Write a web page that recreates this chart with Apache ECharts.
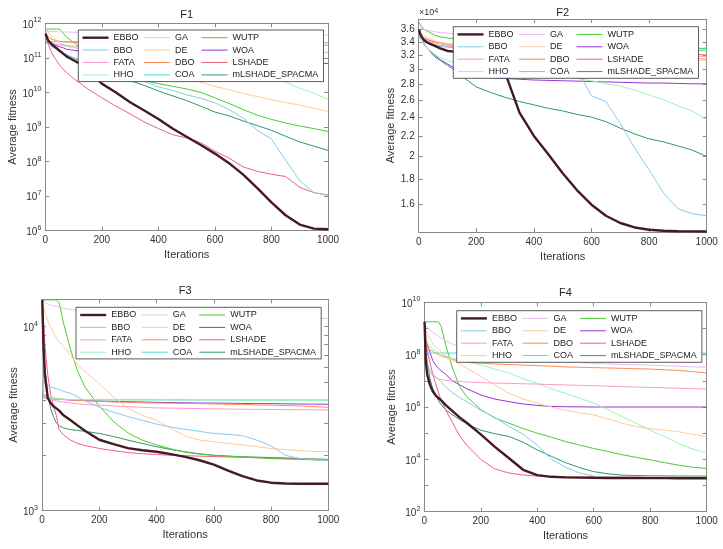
<!DOCTYPE html>
<html>
<head>
<meta charset="utf-8">
<script src="https://cdn.jsdelivr.net/npm/echarts@6.0.0/dist/echarts.min.js"></script>
<style>
html,body{margin:0;padding:0;background:#fff;}
#main{width:723px;height:549px;}
</style>
</head>
<body>
<div id="main"></div>
<script>
// iterations sampled along the x axis (shared by all four panels)
var iters = [1,5,10,20,30,40,50,60,75,100,125,150,200,250,300,350,400,450,500,550,600,650,700,750,800,850,900,950,1000];
var names = ['EBBO','BBO','FATA','HHO','GA','DE','DBO','COA','WUTP','WOA','LSHADE','mLSHADE_SPACMA'];
var colors = ['#451a22','#87cbee','#ff99cc','#99f5bb','#e6bff5','#ffcc99','#ff8c55','#44e0dc','#4dcc33','#9933dd','#f06080','#2e9b5e'];
var legendOrder = ['EBBO','GA','WUTP','BBO','DE','WOA','FATA','DBO','LSHADE','HHO','COA','mLSHADE_SPACMA'];

// ---- F1 ----
var F1_EBBO = [5e11,4e11,3.2e11,2.6e11,2.2e11,1.9e11,1.6e11,1.4e11,1.1e11,8.5e10,6.6e10,4.5e10,1.8e10,1e10,5.2e9,3e9,1.7e9,9e8,5.2e8,3e8,1.7e8,9e7,4.2e7,1.7e7,6.6e6,2.8e6,1.5e6,1.15e6,1.1e6];
var F1_BBO = [3.2e11,2.8e11,2.5e11,2.2e11,2e11,1.8e11,1.6e11,1.4e11,1.26e11,1e11,8.9e10,7e10,5e10,3.5e10,2.6e10,2.1e10,1.45e10,1.15e10,8.5e9,6.8e9,5e9,3.2e9,1.8e9,8e8,4.5e8,1.1e8,2.8e7,1.26e7,1.07e7];
var F1_FATA = [3.16e11,2.95e11,2.82e11,2.63e11,2.51e11,2.45e11,2.4e11,2.34e11,2.29e11,2.19e11,2.09e11,2.04e11,1.95e11,1.86e11,1.82e11,1.78e11,1.74e11,1.7e11,1.66e11,1.62e11,1.58e11,1.58e11,1.55e11,1.55e11,1.51e11,1.51e11,1.48e11,1.45e11,1.45e11];
var F1_HHO = [3.98e11,3.55e11,3.16e11,2.82e11,2.63e11,2.51e11,2.4e11,2.29e11,2.14e11,2e11,1.86e11,1.74e11,1.51e11,1.32e11,1.15e11,1e11,8.9e10,7.9e10,7.1e10,6.3e10,5.6e10,5e10,4.5e10,3.55e10,2.82e10,2e10,1.32e10,9.5e9,6.3e9];
var F1_GA = [6e11,6e11,5.9e11,5.9e11,5.75e11,5.75e11,5.6e11,5.6e11,5.6e11,5.5e11,5.5e11,5.4e11,5.4e11,5.25e11,5.25e11,5.1e11,5.1e11,5e11,5e11,5e11,4.9e11,4.9e11,4.8e11,4.8e11,4.8e11,4.7e11,4.7e11,4.6e11,4.6e11];
var F1_DE = [7e11,6.3e11,5.6e11,4.5e11,3.8e11,3.2e11,2.8e11,2.5e11,2.2e11,2e11,1.8e11,1.5e11,1.1e11,8.3e10,6.3e10,5e10,4e10,3.2e10,2.5e10,2e10,1.5e10,1.2e10,9.3e9,7.6e9,6.2e9,5.1e9,4.3e9,3.5e9,2.8e9];
var F1_DBO = [5.6e11,4.5e11,4e11,3.55e11,3.3e11,3.16e11,3.02e11,2.95e11,2.88e11,2.82e11,2.75e11,2.75e11,2.69e11,2.69e11,2.63e11,2.63e11,2.57e11,2.57e11,2.51e11,2.51e11,2.51e11,2.45e11,2.45e11,2.45e11,2.4e11,2.4e11,2.4e11,2.34e11,2.34e11];
var F1_COA = [3.16e11,2.95e11,2.95e11,2.95e11,2.95e11,2.95e11,2.95e11,2.95e11,2.95e11,2.95e11,2.95e11,2.95e11,2.95e11,2.9e11,2.9e11,2.9e11,2.9e11,2.9e11,2.88e11,2.88e11,2.88e11,2.85e11,2.85e11,2.82e11,2.82e11,2.8e11,2.8e11,2.78e11,2.75e11];
var F1_WUTP = [6.8e11,6.8e11,6.8e11,6.8e11,6.8e11,6.8e11,6.8e11,5.6e11,4e11,2.8e11,2e11,1.4e11,7e10,4e10,2.8e10,2.2e10,1.8e10,1.5e10,1.26e10,1e10,7e9,4.8e9,3.2e9,2.2e9,1.66e9,1.3e9,1.07e9,9e8,7.4e8];
var F1_WOA = [2.82e11,2.82e11,2.69e11,2.63e11,2.51e11,2.24e11,2.09e11,2e11,1.78e11,1.66e11,1.58e11,1.41e11,1.26e11,1.12e11,1e11,9.3e10,8.9e10,8.3e10,7.9e10,7.8e10,7.6e10,7.4e10,7.2e10,7.1e10,7.1e10,6.9e10,6.9e10,6.9e10,6.9e10];
var F1_LSHADE = [5.6e11,3.5e11,2.5e11,1.6e11,1.1e11,8.3e10,6.3e10,5e10,3.8e10,2.5e10,1.8e10,1.26e10,7e9,4e9,2.4e9,1.4e9,9e8,6e8,4.8e8,3.5e8,2e8,1.26e8,7e7,5.2e7,4.3e7,3.7e7,1.8e7,1.26e7,1.07e7];
var F1_mLSHADE = [5.6e11,4e11,3.2e11,2.5e11,2e11,1.8e11,1.6e11,1.4e11,1.2e11,1e11,8e10,6.6e10,4.5e10,3.2e10,2.2e10,1.6e10,1.1e10,8e9,5.8e9,4e9,2.7e9,2.1e9,1.5e9,1.1e9,8e8,5.4e8,3.7e8,2.8e8,2.1e8];

// ---- F2 ----
var F2_EBBO = [36000,35300,34800,34200,33900,33700,33500,33300,33000,32600,32500,32300,32000,31000,29500,24500,22000,20200,18500,17100,16000,15200,14700,14400,14250,14180,14150,14140,14130];
var F2_BBO = [35500,35000,34600,34200,34000,33800,33600,33500,33400,33200,33000,32900,32700,32500,32300,32100,31800,31500,31000,29800,26500,25800,23300,20800,18800,16900,15700,15350,15200];
var F2_FATA = [35500,35000,34600,34200,34000,33800,33600,33500,33400,33300,33200,33100,33000,32900,32800,32700,32600,32500,32400,32300,32200,32100,32050,32000,31950,31900,31850,31800,31800];
var F2_HHO = [36000,35000,34300,33500,33000,32600,32300,32000,31600,31200,30900,30700,30300,30000,29800,29600,29400,29200,29000,28700,28400,28000,27700,27200,26600,26000,25300,24700,23700];
var F2_GA = [36500,36300,36200,36000,35900,35800,35700,35600,35500,35400,35300,35200,35000,34800,34600,34400,34200,34000,33900,33700,33600,33500,33400,33300,33200,33100,33000,32900,32800];
var F2_DE = [36000,35500,35200,34900,34700,34500,34300,34100,33900,33700,33500,33400,33200,33000,32900,32800,32700,32600,32500,32400,32300,32200,32100,32000,31900,31700,31500,31300,31200];
var F2_DBO = [36000,35300,34900,34500,34300,34100,33900,33800,33700,33500,33400,33300,33100,33000,32900,32800,32700,32600,32500,32400,32300,32200,32100,32000,31900,31800,31700,31500,31400];
var F2_COA = [35500,34500,34200,34000,33800,33600,33500,33400,33300,33200,33100,33000,32950,32900,32900,32850,32850,32800,32800,32750,32750,32700,32700,32700,32700,32650,32650,32650,32650];
var F2_WUTP = [37200,36800,36500,36000,35700,35500,35200,35000,34800,34600,34500,34400,34200,34000,33900,33800,33700,33600,33500,33450,33400,33300,33250,33200,33150,33100,33050,33000,33000];
var F2_WOA = [36000,35000,34500,33500,33000,32600,32200,31800,31300,30700,30100,29600,29000,28800,28700,28600,28500,28450,28400,28350,28300,28250,28200,28150,28100,28100,28050,28000,28000];
var F2_LSHADE = [36000,35500,35000,34600,34400,34200,34100,34000,33900,33700,33600,33500,33300,33200,33100,33000,32900,32800,32700,32600,32500,32400,32350,32300,32250,32200,32150,32100,32000];
var F2_mLSHADE = [36000,35200,34500,33500,33000,32500,32000,31600,31200,30500,29800,29000,27600,26900,26300,25800,25400,25000,24700,24300,24000,23500,22800,22200,21700,21400,21000,20600,20000];

// ---- F3 ----
var F3_EBBO = [14000,8000,5500,4100,3850,3700,3600,3500,3300,3100,2900,2720,2430,2300,2190,2130,2090,2030,1960,1880,1780,1650,1540,1460,1420,1405,1400,1400,1400];
var F3_BBO = [14000,5200,4900,4800,4700,4650,4600,4550,4450,4350,4150,3950,3650,3430,3250,3100,2960,2850,2770,2700,2630,2600,2560,2420,2250,2000,1920,1890,1880];
var F3_FATA = [14000,4200,4100,4050,4000,3980,3950,3930,3900,3850,3810,3780,3750,3710,3680,3650,3620,3610,3600,3590,3580,3570,3560,3555,3550,3545,3540,3535,3530];
var F3_HHO = [7500,4300,4150,4100,4080,4070,4060,4050,4040,4030,4020,4015,4010,4005,4000,4000,3995,3995,3990,3990,3990,3985,3985,3985,3985,3980,3980,3980,3980];
var F3_GA = [14000,13800,13600,13300,13100,13000,12900,12800,12600,12400,12300,12200,12050,11950,11850,11800,11750,11700,11600,11550,11500,11450,11400,11350,11300,11250,11200,11150,11100];
var F3_DE = [13500,13000,12000,10800,10000,9300,8700,8300,7800,7000,6200,5700,4900,4150,3600,3300,3100,2800,2550,2420,2370,2320,2280,2230,2180,2150,2120,2100,2090];
var F3_DBO = [14000,4300,4200,4150,4120,4100,4080,4060,4030,4000,3980,3960,3930,3900,3880,3860,3850,3840,3830,3820,3800,3790,3780,3760,3750,3730,3710,3680,3650];
var F3_COA = [7000,4100,4060,4050,4040,4035,4030,4030,4025,4020,4020,4015,4015,4010,4010,4010,4005,4005,4005,4000,4000,4000,4000,4000,4000,4000,4000,4000,4000];
var F3_WUTP = [14000,14000,14000,14000,14000,14000,14000,13500,10500,7500,5700,4700,3700,3050,2650,2420,2280,2170,2080,2030,2000,1980,1960,1940,1920,1910,1900,1890,1880];
var F3_WOA = [14000,4300,4150,4100,4080,4070,4050,4040,4020,4000,3990,3970,3950,3930,3910,3900,3880,3870,3860,3850,3850,3840,3830,3820,3820,3810,3800,3795,3790];
var F3_LSHADE = [14000,11000,8000,5500,4300,3700,3300,2750,2580,2420,2320,2260,2180,2120,2070,2040,2020,2000,1990,1980,1970,1960,1950,1940,1930,1920,1910,1905,1900];
var F3_mLSHADE = [14000,9000,6000,4300,3600,3250,3000,2900,2820,2760,2730,2700,2630,2530,2420,2320,2230,2150,2090,2040,2000,1980,1965,1955,1945,1935,1925,1910,1900];

// ---- F4 ----
var F4_EBBO = [1.8e9,6e7,1.8e7,7e6,4e6,2.8e6,2.2e6,1.8e6,1.2e6,7e5,4e5,2.5e5,9e4,3e4,1.1e4,4e3,2.5e3,2.15e3,2.05e3,2e3,1.97e3,1.95e3,1.94e3,1.93e3,1.92e3,1.91e3,1.9e3,1.9e3,1.9e3];
var F4_BBO = [1.5e9,1.5e8,5e7,2.5e7,1.8e7,1.4e7,1.1e7,9e6,6e6,3.5e6,2.3e6,1.6e6,7.5e5,4e5,1.8e5,9e4,3.5e4,1e4,5e3,3e3,2.3e3,2.1e3,2.05e3,2e3,2e3,2e3,2e3,2e3,2e3];
var F4_FATA = [1.5e9,1e8,3.5e7,2e7,1.6e7,1.4e7,1.2e7,1.1e7,1.05e7,1e7,9.5e6,9e6,8.5e6,8.2e6,8e6,7.7e6,7.5e6,7.2e6,7e6,6.7e6,6.5e6,6.2e6,6e6,5.8e6,5.6e6,5.4e6,5.2e6,5e6,4.9e6];
var F4_HHO = [1.5e9,5e8,3e8,2e8,1.6e8,1.4e8,1.2e8,1.1e8,9e7,7.5e7,6.3e7,5.3e7,4e7,2.8e7,2e7,1.2e7,8e6,5e6,3.3e6,2.2e6,1.4e6,8e5,4.3e5,2.4e5,1.3e5,7.5e4,4e4,2.5e4,1.7e4];
var F4_GA = [1.5e9,1.3e9,1.1e9,9e8,7e8,6e8,5e8,4.3e8,3.5e8,2.5e8,2e8,1.7e8,1.3e8,1.15e8,1e8,8.5e7,7e7,6.2e7,5.5e7,5e7,4.6e7,4.4e7,4.2e7,4.1e7,4e7,3.8e7,3.6e7,3.4e7,3.3e7];
var F4_DE = [1.5e9,9e8,6e8,4e8,2.8e8,2e8,1.6e8,1.3e8,9e7,6e7,4.5e7,3e7,1.5e7,7e6,3.3e6,2e6,1.4e6,1e6,7.5e5,6e5,5e5,3.5e5,2.4e5,1.8e5,1.5e5,1.3e5,1.15e5,9e4,7.5e4];
var F4_DBO = [1.5e9,4e8,2e8,1.5e8,1.3e8,1.15e8,1e8,9e7,8e7,6.5e7,5.8e7,5.3e7,4.7e7,4.4e7,4.2e7,4e7,3.8e7,3.6e7,3.4e7,3.3e7,3.2e7,3.1e7,3e7,2.9e7,2.8e7,2.65e7,2.5e7,2.25e7,2e7];
var F4_COA = [4e8,1.2e8,1.15e8,1.15e8,1.15e8,1.15e8,1.15e8,1.15e8,1.15e8,1.15e8,1.15e8,1.15e8,1.15e8,1.15e8,1.15e8,1.15e8,1.15e8,1.15e8,1.15e8,1.15e8,1.15e8,1.15e8,1.15e8,1.15e8,1.15e8,1.15e8,1.15e8,1.15e8,1.15e8];
var F4_WUTP = [1.8e9,1.8e9,1.8e9,1.8e9,1.8e9,1.8e9,1.8e9,1.2e9,2.5e8,3e7,6e6,2.5e6,8e5,3.8e5,2.4e5,1.5e5,1e5,7e4,4.8e4,3.5e4,2.6e4,2e4,1.5e4,1.2e4,9.5e3,7.5e3,6e3,5e3,4.5e3];
var F4_WOA = [1.5e9,5e8,2.5e8,1.2e8,6e7,4e7,3e7,2.4e7,1.8e7,1e7,7e6,5e6,2.9e6,2e6,1.6e6,1.3e6,1.15e6,1.05e6,1.02e6,1.01e6,1e6,1e6,1e6,1e6,1e6,1e6,1e6,1e6,1e6];
var F4_LSHADE = [1.5e9,4e8,1.5e8,5e7,1.8e7,8e6,3.5e6,1.8e6,8e5,2.5e5,8e4,3.5e4,1e4,4.3e3,3e3,2.5e3,2.3e3,2.2e3,2.15e3,2.1e3,2.1e3,2.08e3,2.07e3,2.06e3,2.05e3,2.05e3,2.04e3,2.04e3,2.03e3];
var F4_mLSHADE = [1.5e9,2e8,6e7,1.2e7,5e6,3e6,1.8e6,1.2e6,8e5,5e5,3.3e5,2.3e5,1.3e5,9.5e4,7.5e4,4.5e4,2.3e4,1.3e4,7.5e3,4.8e3,3.4e3,2.8e3,2.5e3,2.4e3,2.35e3,2.33e3,2.31e3,2.3e3,2.3e3];

// y tick values
var F1_ticks = [1e6,1e7,1e8,1e9,1e10,1e11,1e12];
var F2_ticks = [16000,18000,20000,22000,24000,26000,28000,30000,32000,34000,36000];
var F3_ticks = [1000,2000,3000,4000,5000,6000,7000,8000,9000,10000];
var F3_labels = [1000,10000];
var F4_ticks = [1e2,1e3,1e4,1e5,1e6,1e7,1e8,1e9,1e10];
var F4_labels = [1e2,1e4,1e6,1e8,1e10];

var panels = [
  {title:'F1', data:[F1_EBBO,F1_BBO,F1_FATA,F1_HHO,F1_GA,F1_DE,F1_DBO,F1_COA,F1_WUTP,F1_WOA,F1_LSHADE,F1_mLSHADE],
   grid:{left:45.3, top:23.3, width:282.7, height:207.4}, min:1e6, max:1e12, ticks:F1_ticks, labels:F1_ticks, pow:true,
   titleY:9.5, nameGap:25.5, legend:[78.3,30]},
  {title:'F2', data:[F2_EBBO,F2_BBO,F2_FATA,F2_HHO,F2_GA,F2_DE,F2_DBO,F2_COA,F2_WUTP,F2_WOA,F2_LSHADE,F2_mLSHADE],
   grid:{left:418.7, top:19, width:288, height:213}, min:14100, max:37800, ticks:F2_ticks, labels:F2_ticks, pow:false,
   titleY:7, nameGap:20, legend:[453.3,26.7]},
  {title:'F3', data:[F3_EBBO,F3_BBO,F3_FATA,F3_HHO,F3_GA,F3_DE,F3_DBO,F3_COA,F3_WUTP,F3_WOA,F3_LSHADE,F3_mLSHADE],
   grid:{left:42, top:299.3, width:286.3, height:211.4}, min:1000, max:14100, ticks:F3_ticks, labels:F3_labels, pow:true,
   titleY:285.5, nameGap:22.5, legend:[76,307.3]},
  {title:'F4', data:[F4_EBBO,F4_BBO,F4_FATA,F4_HHO,F4_GA,F4_DE,F4_DBO,F4_COA,F4_WUTP,F4_WOA,F4_LSHADE,F4_mLSHADE],
   grid:{left:424.3, top:302.3, width:282.4, height:209.4}, min:100, max:1e10, ticks:F4_ticks, labels:F4_labels, pow:true,
   titleY:287, nameGap:25.5, legend:[456.7,310.7]}
];

var fontFam = '"Liberation Sans", Arial, sans-serif';
var axisColor = '#8a8a8a';
var textColor = '#333';
var colTextW = [29, 25, 88];

function powLabel(v){
  var e = Math.round(Math.log10(v));
  return '{b|10}{e|' + e + '}';
}
var supRich = {
  b:{fontSize:10, fontFamily:fontFam, color:textColor, verticalAlign:'bottom', lineHeight:13},
  e:{fontSize:7, fontFamily:fontFam, color:textColor, verticalAlign:'top', lineHeight:7}
};

function makeLegend(p){
  var items = [];
  for(var i=0;i<legendOrder.length;i++){
    items.push({name:legendOrder[i], textStyle:{width:colTextW[i%3]}});
  }
  return {
    left:p.legend[0], top:p.legend[1], width:240, orient:'horizontal',
    itemWidth:26, itemHeight:10, itemGap:1, padding:[2,3,1,3],
    backgroundColor:'#fff', borderColor:'#333', borderWidth:0.8, borderRadius:0,
    selectedMode:false,
    itemStyle:{opacity:0},
    lineStyle:{width:'inherit'},
    textStyle:{fontSize:9, fontFamily:fontFam, color:'#222', lineHeight:11.4, backgroundColor:'transparent'},
    data:items
  };
}

var option = {
  backgroundColor:'#fff',
  animation:false,
  title:[], grid:[], xAxis:[], yAxis:[], legend:[], series:[]
};

for(var g=0; g<panels.length; g++){
  var p = panels[g];
  option.grid.push(p.grid);
  option.title.push({text:p.title, left:p.grid.left + p.grid.width/2, top:p.titleY, textAlign:'center', padding:0,
    textStyle:{fontSize:11, fontWeight:'normal', fontFamily:fontFam, color:'#222'}});
  var lineSt = {show:true, onZero:false, lineStyle:{color:axisColor, width:1}};
  var tickSt = {inside:true, length:4, lineStyle:{color:axisColor}};
  option.xAxis.push({type:'value', gridIndex:g, min:0, max:1000, interval:200, position:'bottom',
    axisLine:lineSt, axisTick:tickSt, splitLine:{show:false},
    axisLabel:{fontSize:10, fontFamily:fontFam, color:textColor, margin:5, formatter:function(v){ return String(v); }},
    name:'Iterations', nameLocation:'middle', nameGap:19,
    nameTextStyle:{fontSize:11, fontFamily:fontFam, color:textColor}});
  option.xAxis.push({type:'value', gridIndex:g, min:0, max:1000, interval:200, position:'top',
    axisLine:lineSt, axisTick:tickSt, splitLine:{show:false}, axisLabel:{show:false}});
  var fmt = p.pow ? powLabel : function(v){ return String(Math.round(v/1000)/10); };
  option.yAxis.push({type:'log', logBase:10, gridIndex:g, min:p.min, max:p.max, position:'left',
    axisLine:lineSt, axisTick:{inside:true, length:4, lineStyle:{color:axisColor}, customValues:p.ticks},
    splitLine:{show:false}, minorTick:{show:false},
    axisLabel:{customValues:p.labels, formatter:fmt, fontSize:10, fontFamily:fontFam, color:textColor, margin:4, rich:supRich},
    name:'Average fitness', nameLocation:'middle', nameGap:p.nameGap,
    nameTextStyle:{fontSize:11, fontFamily:fontFam, color:textColor}});
  option.yAxis.push({type:'log', logBase:10, gridIndex:g, min:p.min, max:p.max, position:'right',
    axisLine:lineSt, axisTick:{inside:true, length:4, lineStyle:{color:axisColor}, customValues:p.ticks},
    splitLine:{show:false}, axisLabel:{show:false}});
  option.legend.push(makeLegend(p));
  for(var i=names.length-1; i>=0; i--){
    var arr = p.data[i];
    var pts = [];
    for(var k=0;k<iters.length;k++){ pts.push([iters[k], arr[k]]); }
    option.series.push({
      name:names[i], type:'line', xAxisIndex:g*2, yAxisIndex:g*2, data:pts,
      symbol:'none', showSymbol:false, silent:true,
      lineStyle:{color:colors[i], width:(i===0 ? 2.4 : 1)},
      itemStyle:{color:colors[i]},
      z:(i===0 ? 3 : 2)
    });
  }
}
// x10^4 multiplier above the F2 axis
option.title.push({text:'\u00d710{e|4}', left:419, top:8, padding:0,
  textStyle:{fontSize:9, fontFamily:fontFam, color:textColor, fontWeight:'normal',
    rich:{e:{fontSize:7, fontFamily:fontFam, color:textColor, verticalAlign:'top', lineHeight:7}}}});

var chart = echarts.init(document.getElementById('main'), null, {renderer:'canvas'});
chart.setOption(option);
</script>
</body>
</html>
